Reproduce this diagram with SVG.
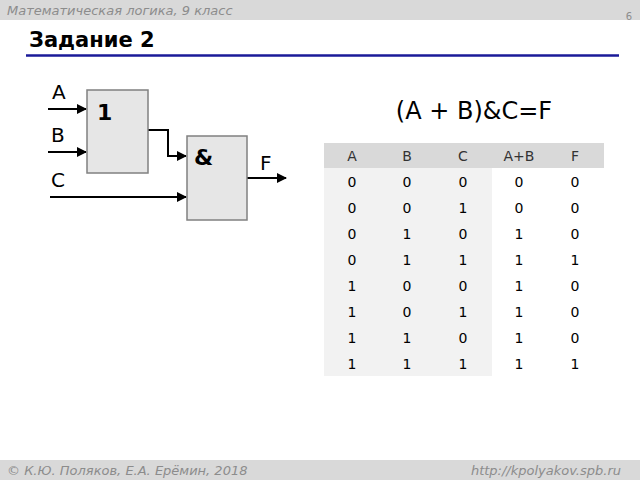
<svg xmlns="http://www.w3.org/2000/svg" width="640" height="480" viewBox="0 0 640 480">
<defs>
<style>
text{font-family:"DejaVu Sans","Noto Sans",sans-serif}
.it{font-style:italic;fill:#8c8c8c;font-size:13px}
.gate{fill:#e6e6e6;stroke:#808080;stroke-width:1.5}
.w{stroke:#000;stroke-width:2;fill:none}
.lbl{font-size:20px}
.t{font-size:14px;text-anchor:middle}
.h{font-size:14px;text-anchor:middle;fill:#333}
</style>
<marker id="ar" viewBox="0 0 10 10" refX="9" refY="5" markerWidth="5" markerHeight="5" orient="auto"><path d="M0,0L10,5L0,10z" fill="#000"/></marker>
</defs>
<rect width="640" height="480" fill="#fff"/>
<rect width="640" height="20" fill="#d9d9d9"/>
<text class="it" x="7" y="15">Математическая логика, 9 класс</text>
<text x="632" y="20" font-size="10" fill="#8c8c8c" text-anchor="end">6</text>
<text x="29" y="47" font-size="21" font-weight="bold">Задание 2</text>
<line x1="26" y1="55.5" x2="619" y2="55.5" stroke="#1a1a99" stroke-width="2.5"/>
<rect y="460" width="640" height="20" fill="#d9d9d9"/>
<text class="it" x="7" y="475">© К.Ю. Поляков, Е.А. Ерёмин, 2018</text>
<text class="it" x="621" y="475" text-anchor="end">http://kpolyakov.spb.ru</text>

<g id="connectors">
<line class="w" x1="48" y1="109" x2="86" y2="109" marker-end="url(#ar)"/>
<line class="w" x1="48" y1="152" x2="86" y2="152" marker-end="url(#ar)"/>
<line class="w" x1="50" y1="197" x2="186" y2="197" marker-end="url(#ar)"/>
<polyline class="w" points="148,130 168,130 168,156 186,156" marker-end="url(#ar)"/>
<line class="w" x1="247" y1="178" x2="286" y2="178" marker-end="url(#ar)"/>
</g>
<g id="gate-or"><rect class="gate" x="87" y="90" width="61" height="83"/><text x="97" y="120" font-size="22" font-weight="bold">1</text></g>
<g id="gate-and"><rect class="gate" x="187" y="136" width="60" height="84"/><text x="194" y="165" font-size="22" font-weight="bold">&amp;</text></g>
<text class="lbl" x="52" y="99">A</text>
<text class="lbl" x="51" y="142">B</text>
<text class="lbl" x="51" y="187">C</text>
<text class="lbl" x="260" y="170">F</text>
<text x="474" y="119" font-size="24" text-anchor="middle">(A + B)&amp;C=F</text>

<g id="table">
<rect x="324" y="143" width="280" height="25" fill="#d9d9d9"/>
<rect x="324" y="168" width="168" height="208" fill="#f2f2f2"/>
<text class="h" x="352" y="161">A</text><text class="h" x="407" y="161">B</text><text class="h" x="463" y="161">C</text><text class="h" x="519" y="161">A+B</text><text class="h" x="575" y="161">F</text>
<g class="t">
<text class="t" x="352" y="187">0</text><text class="t" x="407" y="187">0</text><text class="t" x="463" y="187">0</text><text class="t" x="519" y="187">0</text><text class="t" x="575" y="187">0</text>
<text class="t" x="352" y="213">0</text><text class="t" x="407" y="213">0</text><text class="t" x="463" y="213">1</text><text class="t" x="519" y="213">0</text><text class="t" x="575" y="213">0</text>
<text class="t" x="352" y="239">0</text><text class="t" x="407" y="239">1</text><text class="t" x="463" y="239">0</text><text class="t" x="519" y="239">1</text><text class="t" x="575" y="239">0</text>
<text class="t" x="352" y="265">0</text><text class="t" x="407" y="265">1</text><text class="t" x="463" y="265">1</text><text class="t" x="519" y="265">1</text><text class="t" x="575" y="265">1</text>
<text class="t" x="352" y="291">1</text><text class="t" x="407" y="291">0</text><text class="t" x="463" y="291">0</text><text class="t" x="519" y="291">1</text><text class="t" x="575" y="291">0</text>
<text class="t" x="352" y="317">1</text><text class="t" x="407" y="317">0</text><text class="t" x="463" y="317">1</text><text class="t" x="519" y="317">1</text><text class="t" x="575" y="317">0</text>
<text class="t" x="352" y="343">1</text><text class="t" x="407" y="343">1</text><text class="t" x="463" y="343">0</text><text class="t" x="519" y="343">1</text><text class="t" x="575" y="343">0</text>
<text class="t" x="352" y="369">1</text><text class="t" x="407" y="369">1</text><text class="t" x="463" y="369">1</text><text class="t" x="519" y="369">1</text><text class="t" x="575" y="369">1</text>
</g>
</g>
</svg>
